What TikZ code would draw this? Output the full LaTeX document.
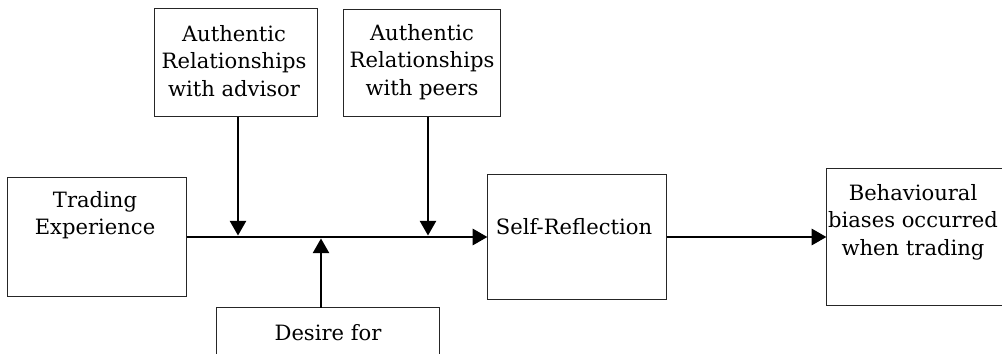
\documentclass[tikz,border=0pt]{standalone}
\usepackage{fontspec}
\setmainfont{DejaVu Serif}
\usetikzlibrary{arrows.meta,positioning}

\begin{document}
\begin{tikzpicture}[
    x=0.025cm, y=-0.025cm,
    box/.style={rectangle, draw=black!85, line width=0.7pt, inner sep=0pt},
    txt/.style={font=\fontsize{15}{19.5}\selectfont, align=center, inner sep=0pt},
    link/.style={line width=2pt, -{Triangle[length=0.37cm, width=0.4cm]}}
  ]
    \useasboundingbox (0,0) rectangle (1002,354);

    % Trading experience box
    \node[box, minimum width=4.45cm, minimum height=2.95cm] (trade) at (97,237) {};
    \node[txt] (tradetxt) at (95,215) {Trading\\Experience};

    % Relationship boxes on top
    \node[box, minimum width=4.05cm, minimum height=2.675cm] (adv) at (236,62.5) {};
    \node[txt] (advtxt) at (234,61) {Authentic\\Relationships\\with advisor};
    \node[box, minimum width=3.9cm, minimum height=2.65cm] (peer) at (422,63) {};
    \node[txt] (peertxt) at (422,62) {Authentic\\Relationships\\with peers};

    % Self-reflection box
    \node[box, minimum width=4.45cm, minimum height=3.125cm] (self) at (577,237) {};
    \node[txt] (selftxt) at (574,227) {Self-Reflection};

    % Behavioural biases box (open at the right edge)
    \node[box, draw=none, minimum width=4.4cm, minimum height=3.4cm] (behav) at (915,237) {};
    \draw[black!85, line width=0.7pt] (behav.north east) -- (behav.north west)
      -- (behav.south west) -- (behav.south east);
    \node[txt] (behavtxt) at (913,222) {Behavioural\\biases occurred\\when trading};

    % Desire box (open at the bottom)
    \node[box, draw=none, minimum width=5.55cm, minimum height=1.15cm] (desire) at (328,331) {};
    \draw[black!85, line width=0.7pt] (desire.south west) -- (desire.north west)
      -- (desire.north east) -- (desire.south east);
    \node[txt] (desiretxt) at (328,333) {Desire for};

    % points on main line
    \coordinate (m1) at (238,237);
    \coordinate (m2) at (428,237);
    \coordinate (m3) at (321,237);

    % connectors
    \draw[link] (trade.east) -- (self.west);
    \draw[link, shorten >=1pt] (m1 |- adv.south) -- (m1);
    \draw[link, shorten >=1pt] (m2 |- peer.south) -- (m2);
    \draw[link, shorten >=1pt] (m3 |- desire.north) -- (m3);
    \draw[link] (self.east) -- (behav.west);
  \end{tikzpicture}
\end{document}
